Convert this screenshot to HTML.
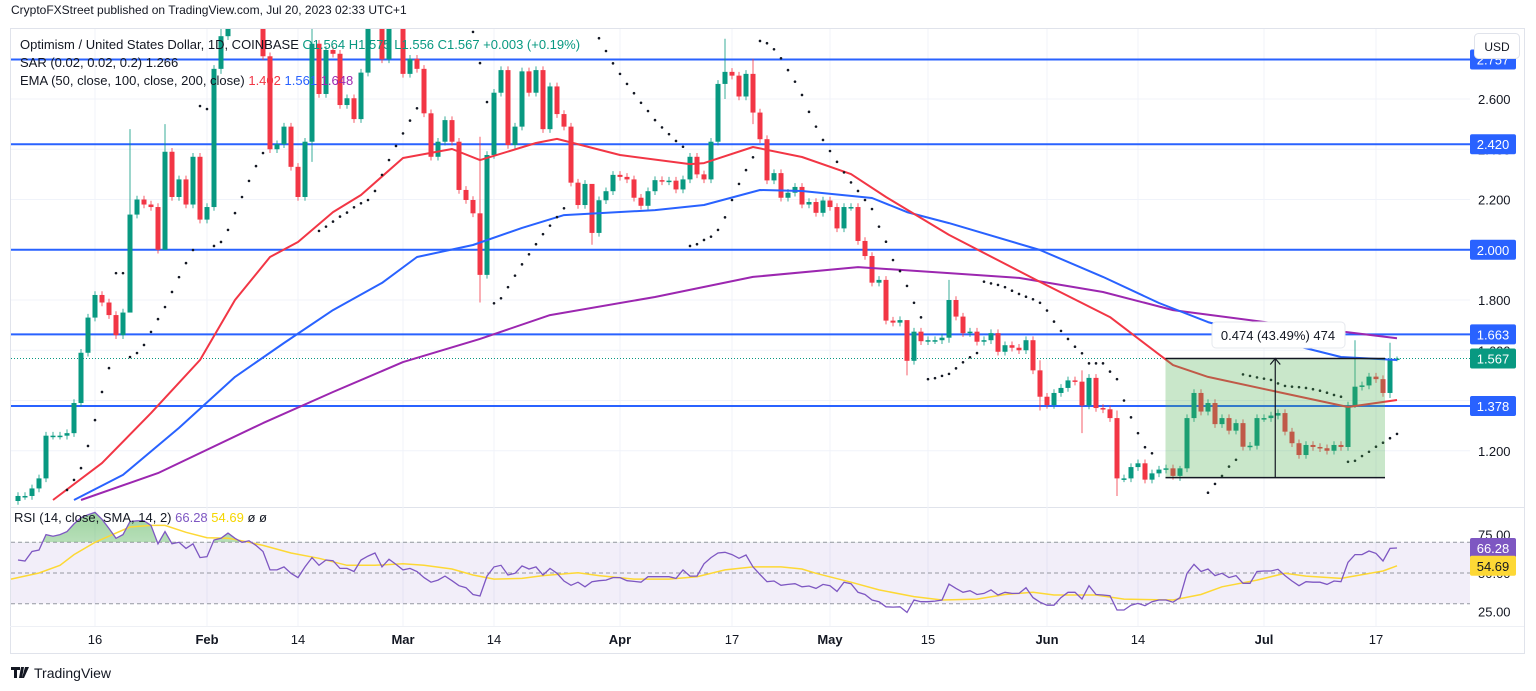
<!DOCTYPE html>
<html><head><meta charset="utf-8">
<style>
html,body{margin:0;padding:0;background:#fff;width:1536px;height:691px;overflow:hidden;font-family:"Liberation Sans",sans-serif;}
svg{display:block}
text{font-family:"Liberation Sans",sans-serif;}
</style></head>
<body>
<svg id="chart" width="1536" height="691" viewBox="0 0 1536 691">
<defs>
<clipPath id="mainClip"><rect x="11" y="29" width="1459" height="477"/></clipPath>
<clipPath id="obClip"><rect x="11" y="509" width="1459" height="33.3"/></clipPath>
<linearGradient id="obGrad" x1="0" y1="0" x2="0" y2="1"><stop offset="0" stop-color="#4caf50" stop-opacity="0.55"/><stop offset="1" stop-color="#4caf50" stop-opacity="0.05"/></linearGradient>
</defs>
<text x="11" y="14" font-size="12" fill="#131722">CryptoFXStreet published on TradingView.com, Jul 20, 2023 02:33 UTC+1</text>
<rect x="10.5" y="28.5" width="1514" height="625" fill="none" stroke="#e0e3eb"/>
<line x1="10" y1="507.5" x2="1524" y2="507.5" stroke="#e0e3eb"/>
<line x1="10" y1="626.5" x2="1524" y2="626.5" stroke="#eef0f5"/>
<g id="grid"></g>
<g id="main" clip-path="url(#mainClip)"></g>
<g id="rsi"></g>
<g id="axis"></g>
<g id="xaxis"></g>
<g id="legend">
<text x="20" y="49" font-size="13" fill="#131722">Optimism / United States Dollar, 1D, COINBASE <tspan fill="#089981">O1.564 H1.575 L1.556 C1.567 +0.003 (+0.19%)</tspan></text>
<text x="20" y="67" font-size="13" fill="#131722">SAR (0.02, 0.02, 0.2) 1.266</text>
<text x="20" y="85" font-size="13" fill="#131722">EMA (50, close, 100, close, 200, close) <tspan fill="#f23645">1.402</tspan> <tspan fill="#2962ff">1.561</tspan> <tspan fill="#9c27b0">1.648</tspan></text>
<text x="14" y="522" font-size="13" fill="#131722">RSI (14, close, SMA, 14, 2) <tspan fill="#7e57c2">66.28</tspan> <tspan fill="#f5d600">54.69</tspan> ø ø</text>
</g>
<g>
<path d="M11 667h9v3h-3v8h-3v-8h-3z M21 667h3l-2 11h-3z M25 667h4l-5 11h-2z" fill="#131722"/>
<text x="34" y="678" font-size="14" fill="#131722">TradingView</text>
</g>
</svg>
<script>
const NS="http://www.w3.org/2000/svg";
// ---------- data ----------
const closes=[1.02,1.02,1.05,1.09,1.26,1.26,1.26,1.27,1.39,1.59,1.73,1.82,1.79,1.74,1.66,1.75,2.14,2.20,2.18,2.17,2.00,2.39,2.21,2.28,2.18,2.37,2.12,2.17,2.72,2.85,2.95,3.00,2.95,3.00,2.90,2.77,2.40,2.42,2.49,2.33,2.21,2.43,2.82,2.62,2.795,2.78,2.576,2.603,2.52,2.705,2.90,2.95,2.758,2.90,2.95,2.70,2.76,2.72,2.543,2.37,2.43,2.516,2.43,2.238,2.198,2.145,1.90,2.377,2.625,2.715,2.417,2.49,2.71,2.625,2.715,2.48,2.65,2.54,2.49,2.267,2.178,2.262,2.067,2.197,2.233,2.298,2.29,2.28,2.207,2.175,2.233,2.277,2.272,2.275,2.24,2.28,2.37,2.30,2.28,2.43,2.66,2.708,2.693,2.61,2.70,2.546,2.44,2.276,2.305,2.207,2.227,2.25,2.18,2.19,2.147,2.196,2.17,2.085,2.17,2.17,2.035,1.975,1.869,1.88,1.718,1.71,1.72,1.558,1.674,1.636,1.64,1.64,1.65,1.80,1.734,1.668,1.674,1.634,1.64,1.668,1.594,1.62,1.61,1.60,1.64,1.52,1.415,1.382,1.43,1.45,1.48,1.475,1.38,1.49,1.37,1.365,1.33,1.09,1.09,1.135,1.15,1.085,1.11,1.125,1.13,1.10,1.13,1.33,1.43,1.356,1.39,1.306,1.33,1.28,1.31,1.216,1.22,1.33,1.33,1.34,1.35,1.276,1.23,1.183,1.223,1.215,1.21,1.20,1.223,1.215,1.38,1.455,1.46,1.495,1.485,1.43,1.564,1.567];
const firstOpen=1.00;
const wickIdx=[16,21,29,42,66,82,101,105,127,133,146,152,157,166,191,196,197];
const wickHigh=[2.48,2.50,2.95,2.90,2.45,2.24,2.84,2.76,1.68,1.88,1.56,1.52,1.36,1.14,1.64,1.63,1.575];
const wickLow=[2.00,2.12,2.70,2.35,1.79,2.02,2.60,2.50,1.50,1.63,1.36,1.27,1.02,1.08,1.37,1.41,1.556];
const emaIdx50=[5,12,19,26,31,36,40,45,49,55,62,66,74,77,86,96,98,105,112,119,124,133,146,156,165,170,180,190,197];
const ema50=[1.004,1.151,1.350,1.561,1.800,1.971,2.031,2.150,2.218,2.365,2.401,2.357,2.425,2.441,2.377,2.341,2.345,2.409,2.369,2.301,2.210,2.059,1.872,1.732,1.541,1.494,1.434,1.374,1.402];
const emaIdx100=[8,15,23,31,38,45,52,57,65,72,78,91,98,106,112,122,127,133,146,155,163,170,181,189,197];
const ema100=[1.004,1.104,1.291,1.494,1.629,1.760,1.868,1.971,2.019,2.087,2.138,2.158,2.178,2.238,2.234,2.206,2.150,2.106,1.999,1.892,1.788,1.712,1.629,1.573,1.561];
const emaIdx200=[9,20,35,45,55,66,76,91,105,120,133,143,155,165,179,197];
const ema200=[1.004,1.111,1.310,1.434,1.553,1.645,1.740,1.812,1.892,1.931,1.907,1.888,1.832,1.760,1.709,1.648];
const sarStarts=[7,14,16,26,28,43,65,68,83,96,106,130,138,153,170,175,190];
const sarSegs=[[1.044,1.084,1.131,1.219,1.322,1.434,1.529],[1.907,1.907],[1.573,1.589,1.621,1.673,1.724,1.772,1.832,1.891,1.947,1.999],[2.572,2.560],[2.015,2.031,2.079,2.146,2.210,2.274,2.333,2.385],[2.075,2.092,2.112,2.132,2.148,2.169,2.185,2.198,2.234,2.298,2.357,2.413,2.463,2.514,2.563],[2.867,2.743,2.588],[1.787,1.807,1.851,1.897,1.942,1.982,2.022,2.062,2.096,2.130,2.165],[2.842,2.791,2.742,2.700,2.660,2.623,2.585,2.552,2.516,2.487,2.460,2.433,2.410],[2.015,2.022,2.039,2.052,2.079,2.129,2.198,2.262,2.317,2.368],[2.831,2.822,2.798,2.762,2.715,2.669,2.616,2.549,2.490,2.437,2.393,2.350,2.308,2.268,2.234,2.198,2.162,2.092,2.032,1.959,1.915,1.856,1.789,1.731],[1.485,1.489,1.498,1.506,1.528,1.552,1.572,1.589],[1.873,1.866,1.860,1.851,1.837,1.824,1.813,1.803,1.789,1.758,1.714,1.677,1.645,1.614,1.588],[1.548,1.548,1.548,1.515,1.485,1.40,1.333,1.270,1.214,1.190],[1.033,1.068,1.100,1.137,1.164],[1.504,1.498,1.492,1.487,1.482,1.468,1.458,1.455,1.453,1.450,1.445,1.439,1.431,1.422,1.415],[1.156,1.160,1.179,1.196,1.216,1.232,1.250,1.267]];
const levels=[2.757,2.420,2.000,1.663,1.378];
const priceTicks=[2.600,2.400,2.200,1.800,1.600,1.400,1.200];
const rsiVals=[58.5,57.8,64,65,75,74,75,77,82,86,88,89.5,85,79,72.6,75,83.5,84,84,81,69,77,69,70,66,69,60,60.6,71.5,72.6,76,72.6,70,71,68,64,52,52,54,49.8,47,54,60,55,58.5,58,53,53,51,58.5,61,63,54,59,55.6,52,53,51,47,44,45.4,48,45,41.7,40.4,36,35,48,54,55,48.7,49.8,54.6,52.6,54,48.7,53,49.8,44.8,42,44,41,44.3,45,45.4,47,47,45,44.5,44,47.6,47.6,47.6,47.6,46.5,52,48,48,56,60,63,63.5,62,59.6,61.7,54,49,44.3,44.8,42,42.6,43,41,41.5,40,42.6,41.7,38,44,43,37.4,36,32.4,31.3,28,27.8,28,24.3,32.4,31.3,31.3,31.7,32.4,42.8,40,37.4,38.5,36,36.7,39,35.7,37.4,36.7,36.7,40.4,34,31,29,29,34,37.4,37.4,33,41.7,36,35.7,35.2,25.9,25.9,29,30.2,28.7,31.3,32.4,32.4,31,34,49.8,55.6,51,52.6,48.3,49.8,47,48.3,43.3,43.3,51,51.3,51.3,52.4,48.3,44.8,41.7,44.3,44,44,42.6,44.8,44.3,57,62,62,64.3,62.8,57.8,66,66.28];
const smaIdx=[-1,3,6,8,11,14,16,19,21,24,27,30,32,35,39,43,47,51,55,58,62,65,68,72,75,80,83,88,93,97,101,105,109,112,114,119,123,128,132,137,141,145,148,154,158,165,169,172,177,181,184,189,195,197];
const smaVals=[46,50,55,62,70,76,80,81,81,76.5,73,72.6,71,68,63,59.6,55,55,56,55,52.6,48.7,46,46.5,48.3,50.2,48.3,46,46,47.6,52,54,54,52.6,49.8,44,39,34.6,32.4,33,36,37.4,35.7,35.7,33,32.4,36,41,45.4,49.8,48,46.5,51.3,54.69];
const monthLabels=["16","Feb","14","Mar","14","Apr","17","May","15","Jun","14","Jul","17"];
const monthBold=[0,1,0,1,0,1,0,1,0,1,0,1,0];
const monthDay=[11,27,40,55,68,86,102,116,130,147,160,178,194];
const measureFrom=1.093, measureTo=1.567, measureStartIdx=164, measureEndIdx=197;
// ---------- scales ----------
const xS=i=>18+7*i;
const yP=p=>99+(2.6-p)*251.25;
const yR=v=>573-(v-50)*1.535;
function el(tag,attrs,parent){const e=document.createElementNS(NS,tag);for(const k in attrs)e.setAttribute(k,attrs[k]);parent.appendChild(e);return e;}
const main=document.getElementById('main'),grid=document.getElementById('grid'),axis=document.getElementById('axis'),rsiG=document.getElementById('rsi'),xax=document.getElementById('xaxis');
priceTicks.forEach(p=>{const l=el('line',{x1:11,x2:1470,y1:yP(p),y2:yP(p),stroke:'#f0f3fa'},grid);

});
monthDay.forEach(d=>{const l=el('line',{x1:xS(d),x2:xS(d),y1:29,y2:626,stroke:'#f0f3fa'},grid);

});
levels.forEach(p=>{const l=el('line',{x1:11,x2:1470,y1:yP(p),y2:yP(p),stroke:'#2962ff','stroke-width':2},main);

});
const lp=el('line',{x1:11,x2:1470,y1:yP(1.567),y2:yP(1.567),stroke:'#089981','stroke-dasharray':'1 2'},main);


for(let i=0;i<closes.length;i++){
  const o=i===0?firstOpen:closes[i-1],c=closes[i];
  let hi=Math.max(o,c)+0.015,lo=Math.min(o,c)-0.015;
  const k=wickIdx.indexOf(i); if(k>=0){hi=wickHigh[k];lo=wickLow[k];}
  const col=c>=o?'#089981':'#f23645';
  const g=el('g',{},main);
  
  
  el('line',{x1:xS(i),x2:xS(i),y1:yP(hi),y2:yP(lo),stroke:col,'stroke-width':1,opacity:0.8},g);
  const yt=yP(Math.max(o,c)),yb=yP(Math.min(o,c));
  el('rect',{x:xS(i)-2.5,y:yt,width:5,height:Math.max(1.5,yb-yt),fill:col},g);
}
function line(idx,vals,col,name){const d=idx.map((i,k)=>(k?'L':'M')+xS(i).toFixed(1)+' '+yP(vals[k]).toFixed(1)).join(' ');
const p=el('path',{d:d,fill:'none',stroke:col,'stroke-width':2,'stroke-linejoin':'round'},main);

}
line(emaIdx200,ema200,'#9c27b0','ema-200-line');
line(emaIdx100,ema100,'#2962ff','ema-100-line');
line(emaIdx50,ema50,'#f23645','ema-50-line');
sarStarts.forEach((s,k)=>{sarSegs[k].forEach((v,j)=>{const c=el('circle',{cx:xS(s+j),cy:yP(v),r:1.3,fill:'#131722'},main);

});});
const mx1=xS(measureStartIdx)-0.5,mx2=xS(measureEndIdx)-12,my1=yP(measureTo),my2=yP(measureFrom);
const mr=el('rect',{x:mx1,y:my1,width:mx2-mx1,height:my2-my1,fill:'rgba(76,175,80,0.3)'},main);


el('line',{x1:mx1,x2:mx2,y1:my1,y2:my1,stroke:'#131722','stroke-width':1.5},main);
el('line',{x1:mx1,x2:mx2,y1:my2,y2:my2,stroke:'#131722','stroke-width':1.5},main);
const amx=(mx1+mx2)/2;
el('line',{x1:amx,x2:amx,y1:my2,y2:my1,stroke:'#131722','stroke-width':1.2},main);
el('path',{d:`M${amx-5} ${my1+6}L${amx} ${my1}L${amx+5} ${my1+6}`,fill:'none',stroke:'#131722','stroke-width':1.2},main);
const lb=el('g',{},main);


el('rect',{x:1212,y:322,width:133,height:26,rx:4,fill:'#fff',stroke:'#e6e8ee'},lb);
const lt=el('text',{x:1278,y:340,'font-size':13,'text-anchor':'middle',fill:'#131722'},lb);lt.textContent='0.474 (43.49%) 474';
priceTicks.forEach(p=>{const t=el('text',{x:1478,y:yP(p)+5,'font-size':13,fill:'#131722'},axis);t.textContent=p.toFixed(3);

});
function tag(p,txt,bg,fg,name){const g=el('g',{},axis);


const yy=yP(p);
el('rect',{x:1470,y:yy-10,width:46,height:20,rx:2,fill:bg},g);
const t=el('text',{x:1493,y:yy+5,'font-size':13,'text-anchor':'middle',fill:fg},g);t.textContent=txt;}
levels.forEach(p=>tag(p,p.toFixed(3),'#2962ff','#fff','level-price-label'));
tag(1.567,'1.567','#089981','#fff','last-price-label');
const ub=el('g',{},axis);


el('rect',{x:1474.5,y:33.5,width:45,height:25,rx:4,fill:'#fff',stroke:'#e0e3eb'},ub);
const ut=el('text',{x:1497,y:51,'font-size':12,'text-anchor':'middle',fill:'#131722'},ub);ut.textContent='USD';
const band=el('rect',{x:11,y:yR(70),width:1459,height:yR(30)-yR(70),fill:'rgba(126,87,194,0.1)'},rsiG);


[70,50,30].forEach(v=>{const l=el('line',{x1:11,x2:1470,y1:yR(v),y2:yR(v),stroke:'#9598a1','stroke-dasharray':'4 3'},rsiG);

});
const rp=rsiVals.map((v,i)=>(i?'L':'M')+xS(i).toFixed(1)+' '+yR(v).toFixed(1)).join(' ');
const ob=el('path',{d:rp+` L${xS(rsiVals.length-1)} ${yR(70)} L${xS(0)} ${yR(70)} Z`,fill:'url(#obGrad)','clip-path':'url(#obClip)'},rsiG);


const sp=smaIdx.map((i,k)=>(k?'L':'M')+Math.max(11,xS(i)).toFixed(1)+' '+yR(smaVals[k]).toFixed(1)).join(' ');
const sl=el('path',{d:sp,fill:'none',stroke:'#fdd835','stroke-width':1.5},rsiG);


const rl=el('path',{d:rp,fill:'none',stroke:'#7e57c2','stroke-width':1.3},rsiG);


[75,50,25].forEach(v=>{const t=el('text',{x:1478,y:yR(v)+5,'font-size':13,fill:'#131722'},rsiG);t.textContent=v.toFixed(2);

});
function rtag(v,txt,bg,fg,name){const g=el('g',{},rsiG);


el('rect',{x:1470,y:yR(v)-10,width:46,height:20,rx:2,fill:bg},g);
const t=el('text',{x:1493,y:yR(v)+5,'font-size':13,'text-anchor':'middle',fill:fg},g);t.textContent=txt;}
rtag(66.28,'66.28','#7e57c2','#fff','rsi-value-label');
rtag(54.69,'54.69','#fdd835','#131722','rsi-sma-value-label');
monthLabels.forEach((m,k)=>{const t=el('text',{x:xS(monthDay[k]),y:644,'font-size':13,'text-anchor':'middle',fill:'#131722','font-weight':monthBold[k]?'bold':'normal'},xax);t.textContent=m;

});
// USD box drawn last so it overlaps the top level label
axis.appendChild(ub);
</script>
</body></html>
